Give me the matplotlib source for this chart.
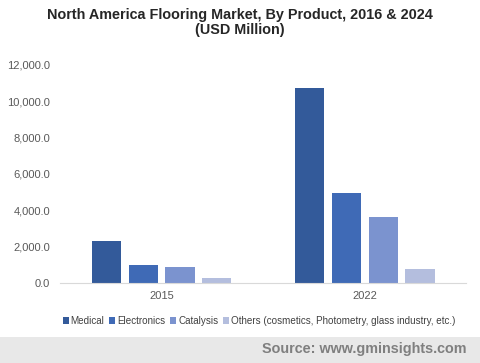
import matplotlib
matplotlib.use("Agg")
import matplotlib.pyplot as plt
import numpy as np
from matplotlib.patches import Rectangle

plt.rcParams['font.family'] = ['Liberation Sans', 'DejaVu Sans']

categories = ["2015", "2022"]
series = ["Medical", "Electronics", "Catalysis", "Others (cosmetics, Photometry, glass industry, etc.)"]
values = {
    "Medical": [2310, 10720],
    "Electronics": [990, 4950],
    "Catalysis": [880, 3630],
    "Others (cosmetics, Photometry, glass industry, etc.)": [275, 770],
}
colors = ["#335A9A", "#3F6AB6", "#7B93CF", "#B4BEDE"]
yticks = [0, 2000, 4000, 6000, 8000, 10000, 12000]

fig = plt.figure(figsize=(4.8, 3.63), dpi=100)
ax = fig.add_axes([0.125, 0.2204, 0.846, 0.6006])

x = np.arange(len(categories))
width = 0.143
step = 0.182
offsets = (np.arange(len(series)) - 1.5) * step
for i, s in enumerate(series):
    ax.bar(x + offsets[i], values[s], width=width, color=colors[i], label=s)

ax.set_xlim(-0.5, 1.5)
ax.set_ylim(0, 12000)
ax.set_yticks(yticks)
ax.set_yticklabels([f"{v:,.1f}" for v in yticks], fontsize=8, color="#595959")
ax.set_xticks(x)
ax.set_xticklabels(categories, fontsize=8, color="#595959")
ax.tick_params(axis='both', length=0)
ax.tick_params(axis='y', pad=7)
ax.tick_params(axis='x', pad=6)
for sp in ["top", "right", "left"]:
    ax.spines[sp].set_visible(False)
ax.spines["bottom"].set_color("#D9D9D9")

fig.text(0.5, 0.978, "North America Flooring Market, By Product, 2016 & 2024\n(USD Million)",
         ha="center", va="top", fontsize=10.4, fontweight="bold", color="#262626", linespacing=1.1)

leg = fig.legend(loc="center", bbox_to_anchor=(0.54, 0.116), ncol=4, frameon=False,
                 fontsize=7.1, handlelength=0.6, handleheight=0.6, handletextpad=0.2,
                 columnspacing=0.5, labelcolor="#404040")

fig.patches.append(Rectangle((0, 0), 1, 26/363, transform=fig.transFigure,
                             facecolor="#E8E8E8", edgecolor="none", zorder=0))
fig.text(0.971, 14/363, "Source: www.gminsights.com", ha="right", va="center",
         fontsize=10.4, fontweight="bold", color="#7F7F7F")

fig.savefig("out.png", dpi=100)
